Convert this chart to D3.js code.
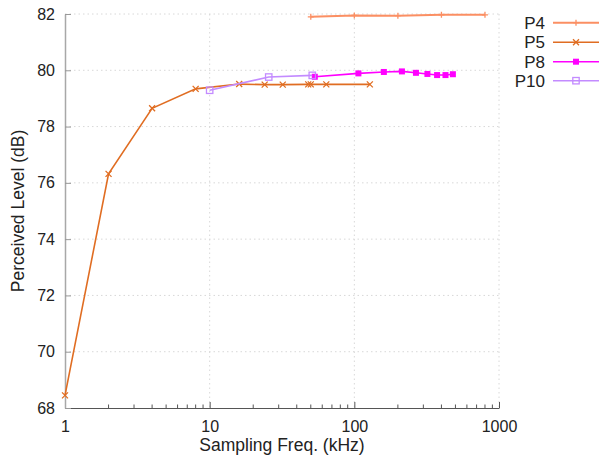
<!DOCTYPE html>
<html><head><meta charset="utf-8">
<script src="https://cdn.jsdelivr.net/npm/d3@7"></script>
<style>body{margin:0;background:#fff}svg{display:block}text{font-family:"Liberation Sans",Arial,sans-serif;fill:#222}</style>
</head><body><svg id="c" width="605" height="458"></svg>
<script>
const p4X = [50, 100, 200, 400, 800];
const p4Y = [81.90, 81.95, 81.94, 81.97, 81.97];
const p5X = [1, 2, 4, 8, 16, 24, 32, 48, 50, 64, 128];
const p5Y = [68.45, 76.32, 78.65, 79.34, 79.51, 79.49, 79.49, 79.50, 79.50, 79.50, 79.50];
const p8X = [53.3, 106.7, 160, 213.3, 266.7, 320, 373.3, 426.7, 480];
const p8Y = [79.77, 79.89, 79.94, 79.96, 79.91, 79.87, 79.83, 79.83, 79.86];
const p10X = [10, 25.6, 51.2];
const p10Y = [79.29, 79.76, 79.82];
const xTicks = [1, 10, 100, 1000];
const yTicks = [68, 70, 72, 74, 76, 78, 80, 82];
const seriesNames = ["P4", "P5", "P8", "P10"];

const series = [
  {name: seriesNames[0], x: p4X, y: p4Y, color: "#fb8f63", marker: "plus", w: 2},
  {name: seriesNames[1], x: p5X, y: p5Y, color: "#e06d22", marker: "cross", w: 1.6},
  {name: seriesNames[2], x: p8X, y: p8Y, color: "#ff00ff", marker: "fsq", w: 1.6},
  {name: seriesNames[3], x: p10X, y: p10Y, color: "#c38bff", marker: "osq", w: 1.6}
];

const svg = d3.select("#c");
const L = 65, R = 499, T = 14, B = 408;
const x = d3.scaleLog().domain([1, 1000]).range([L, R]);
const y = d3.scaleLinear().domain([68, 82]).range([B, T]);

// grid
const g = svg.append("g");
g.selectAll(".gy").data(yTicks.filter(d => d > 68)).enter().append("line")
  .attr("x1", L).attr("x2", R).attr("y1", d => y(d)).attr("y2", d => y(d))
  .attr("stroke", "#d8d8d8").attr("stroke-dasharray", "1.5,3");
g.selectAll(".gx").data(xTicks.filter(d => d > 1)).enter().append("line")
  .attr("y1", T).attr("y2", B).attr("x1", d => x(d)).attr("x2", d => x(d))
  .attr("stroke", "#d8d8d8").attr("stroke-dasharray", "1.5,3");

// axes
const xAxis = d3.axisBottom(x).tickValues(xTicks).tickFormat(d3.format("d")).tickSizeInner(-6).tickSizeOuter(0).tickPadding(13);
const gx = svg.append("g").attr("transform", `translate(0,${B})`).call(xAxis);
gx.select(".domain").attr("stroke", "#555").attr("stroke-width", 1.2);
gx.selectAll(".tick line").attr("stroke", "#555");
gx.selectAll("text").attr("font-size", 16).attr("fill", "#222").attr("font-family", "Liberation Sans, Arial, sans-serif");
// minor ticks
const minor = [];
for (let dec = 1; dec < 1000; dec *= 10) for (let k = 2; k <= 9; k++) minor.push(dec * k);
svg.append("g").selectAll("line").data(minor).enter().append("line")
  .attr("x1", d => x(d)).attr("x2", d => x(d)).attr("y1", B).attr("y2", B - 3.5)
  .attr("stroke", "#555");

const yAxis = d3.axisLeft(y).tickValues(yTicks).tickFormat(d3.format("d")).tickSizeInner(-6).tickSizeOuter(0).tickPadding(10);
const gy = svg.append("g").attr("transform", `translate(${L},0)`).call(yAxis);
gy.select(".domain").attr("stroke", "#a8a8a8").attr("stroke-width", 1.5);
gy.selectAll(".tick line").attr("stroke", "#999");
gy.selectAll("text").attr("font-size", 16).attr("fill", "#222").attr("font-family", "Liberation Sans, Arial, sans-serif");

svg.append("text").attr("x", 282).attr("y", 451).attr("text-anchor", "middle").attr("font-size", 17.5).text("Sampling Freq. (kHz)");
svg.append("text").attr("transform", "translate(24,211) rotate(-90)").attr("text-anchor", "middle").attr("font-size", 17.5).text("Perceived Level (dB)");

function drawMarker(sel, type, color) {
  const s = 3;
  if (type === "plus") {
    sel.append("path").attr("d", `M${-s},0H${s}M0,${-s}V${s}`).attr("stroke", color).attr("stroke-width", 1.3).attr("fill", "none");
  } else if (type === "cross") {
    sel.append("path").attr("d", `M${-s},${-s}L${s},${s}M${-s},${s}L${s},${-s}`).attr("stroke", color).attr("stroke-width", 1.3).attr("fill", "none");
  } else if (type === "fsq") {
    sel.append("rect").attr("x", -3).attr("y", -3).attr("width", 6).attr("height", 6).attr("fill", color);
  } else {
    sel.append("rect").attr("x", -3.2).attr("y", -3.2).attr("width", 6.4).attr("height", 6.4).attr("fill", "none").attr("stroke", color).attr("stroke-width", 1.3);
  }
}

const line = d3.line().x(d => x(d[0])).y(d => y(d[1]));
series.forEach(s => {
  const pts = s.x.map((v, i) => [v, s.y[i]]);
  svg.append("path").datum(pts).attr("d", line).attr("fill", "none").attr("stroke", s.color).attr("stroke-width", s.w);
  pts.forEach(p => {
    const m = svg.append("g").attr("transform", `translate(${x(p[0])},${y(p[1])})`);
    drawMarker(m, s.marker, s.color);
  });
});

// legend
const legY = [22.7, 42.3, 61.7, 80.7];
series.forEach((s, i) => {
  const ly = legY[i];
  svg.append("text").attr("x", 545).attr("y", ly + 6).attr("text-anchor", "end").attr("font-size", 17).text(s.name);
  svg.append("line").attr("x1", 553).attr("x2", 599).attr("y1", ly).attr("y2", ly).attr("stroke", s.color).attr("stroke-width", s.w);
  const m = svg.append("g").attr("transform", `translate(576,${ly})`);
  drawMarker(m, s.marker, s.color);
});
</script></body></html>
